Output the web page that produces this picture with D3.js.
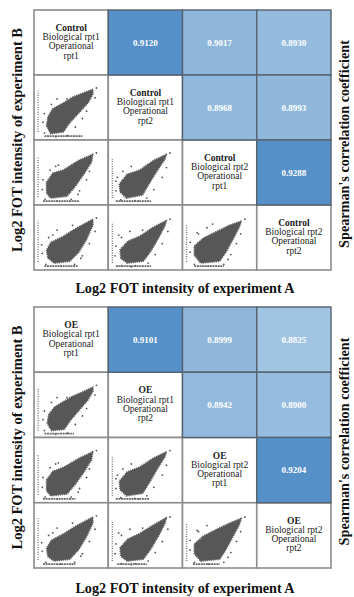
<!DOCTYPE html>
<html><head><meta charset="utf-8">
<script src="https://cdn.jsdelivr.net/npm/d3@7"></script>
<style>body{margin:0;background:#fff}svg{display:block;font-family:"Liberation Serif","Times New Roman",Times,serif}</style>
</head><body>
<svg id="c" width="354" height="597"></svg>
<script>
// ---------- data ----------
const panelNames = ["Control", "OE"];
const sampleIdx = [0, 1, 2, 3];
const bioLabels = ["Biological rpt1", "Biological rpt1", "Biological rpt2", "Biological rpt2"];
const opLabels = ["rpt1", "rpt2", "rpt1", "rpt2"];
// upper triangle pairs [row, col]
const pairs = [[0,1],[0,2],[0,3],[1,2],[1,3],[2,3]];
const controlCorr = [0.9120, 0.9017, 0.8930, 0.8968, 0.8993, 0.9288];
const oeCorr = [0.9101, 0.8999, 0.8825, 0.8942, 0.8900, 0.9204];
const colorStops = [0.880, 0.890, 0.905, 0.910];
const colorRange = ["#a6c6e4", "#96bcdf", "#8cb5da", "#5690c8"];
const xTitle = "Log2 FOT intensity of experiment A";
const yTitle = "Log2 FOT intensity of experiment B";
const rTitle = "Spearman's correlation coefficient";

// lower triangle pairs [row, col] for scatter cells
const scatterPairs = [[1,0],[2,0],[2,1],[3,0],[3,1],[3,2]];
// dense cloud outline (log2 intensity, scaled 0-100)
const controlHulls = [
  [[81,80],[70,75],[52,67],[37,56],[24,48],[17,35],[15,20],[21,7],[39,10],[48,25],[61,41],[75,59],[81,72]],
  [[81,80],[61,70],[39,54],[24,49],[15,34],[15,16],[21,8],[44,11],[55,26],[68,47],[79,67]],
  [[80,80],[62,70],[42,54],[24,47],[13,31],[14,18],[23,8],[46,13],[55,31],[69,57],[78,72]],
  [[81,80],[57,65],[39,52],[21,42],[15,29],[17,16],[26,8],[48,11],[61,26],[72,47],[81,70]],
  [[80,78],[60,66],[42,52],[25,44],[14,30],[15,16],[24,8],[47,11],[58,28],[70,52],[78,70]],
  [[81,77],[64,70],[46,60],[27,49],[14,36],[14,21],[23,8],[50,11],[59,26],[69,47],[78,67]]
];
const oeHulls = [
  [[81,79],[68,72],[52,64],[37,54],[26,46],[18,34],[16,20],[22,8],[40,10],[50,26],[62,42],[74,58],[81,72]],
  [[81,80],[62,70],[40,55],[24,48],[15,34],[15,16],[21,8],[44,11],[56,27],[69,48],[79,67]],
  [[80,80],[62,70],[42,55],[24,47],[13,32],[14,18],[23,8],[46,12],[56,30],[69,56],[78,72]],
  [[81,80],[58,66],[40,53],[22,42],[15,29],[17,15],[26,8],[48,11],[61,27],[72,48],[81,70]],
  [[80,79],[60,66],[42,53],[25,44],[14,30],[15,16],[24,8],[47,11],[58,28],[70,52],[78,70]],
  [[81,78],[64,70],[46,60],[27,49],[14,36],[14,20],[23,8],[50,11],[59,27],[69,48],[78,67]]
];
// sparse points outside the dense cloud
const controlOutliers = [
  [[30,64],[22,55],[12,40],[10,26],[12,8],[28,2],[45,4],[56,18],[66,32],[72,44],[86,82],[84,66],[44,64],[20,14]],
  [[32,62],[20,54],[10,38],[9,22],[13,6],[30,3],[50,6],[62,20],[72,38],[76,52],[86,82],[55,40],[28,60],[60,14]],
  [[30,60],[18,52],[8,36],[8,20],[15,5],[35,4],[52,8],[62,22],[74,42],[80,58],[85,82],[50,48],[10,42],[40,3]],
  [[30,62],[18,50],[8,38],[9,24],[14,6],[35,3],[55,6],[66,20],[76,40],[84,60],[86,82],[52,70],[24,54],[64,16]],
  [[28,60],[16,50],[8,36],[7,20],[16,4],[36,4],[54,8],[64,22],[74,40],[82,60],[85,80],[12,54],[46,62],[30,2]],
  [[32,66],[20,56],[8,42],[8,26],[14,6],[34,3],[56,6],[66,22],[74,40],[80,56],[86,80],[40,72],[18,58],[62,14]]
];
const oeOutliers = [
  [[30,62],[22,54],[12,40],[10,26],[12,8],[28,2],[45,4],[56,18],[66,32],[72,44],[86,82],[84,66],[44,62],[20,14]],
  [[32,62],[20,54],[10,38],[9,22],[13,6],[30,3],[50,6],[62,20],[72,38],[76,52],[86,82],[55,40],[28,60],[60,14]],
  [[30,60],[18,52],[8,36],[8,20],[15,5],[35,4],[52,8],[62,22],[74,42],[80,58],[85,82],[50,48],[10,42],[40,3]],
  [[30,62],[18,50],[8,38],[9,24],[14,6],[35,3],[55,6],[66,20],[76,40],[84,60],[86,82],[52,70],[24,54],[64,16]],
  [[28,60],[16,50],[8,36],[7,20],[16,4],[36,4],[54,8],[64,22],[74,40],[82,60],[85,80],[12,54],[46,62],[30,2]],
  [[32,66],[20,56],[8,42],[8,26],[14,6],[34,3],[56,6],[66,22],[74,40],[80,56],[86,80],[30,22],[18,58],[62,14]]
];
// points at the detection floor: [from, to] along left edge (y) and bottom edge (x)
const controlLeftStrip = [[10,78],[10,76],[8,72],[10,78],[8,74],[10,70]];
const controlBottomStrip = [[12,66],[10,62],[8,58],[12,60],[8,58],[14,56]];
const oeLeftStrip = [[8,78],[10,76],[8,72],[10,78],[8,74],[8,70]];
const oeBottomStrip = [[12,54],[10,56],[8,56],[10,56],[10,52],[12,50]];
const floorValue = 3;

// ---------- drawing ----------
const svg = d3.select("#c");
const serif = '"Liberation Serif", "Times New Roman", Times, serif';
const color = d3.scaleLinear().domain(colorStops).range(colorRange).clamp(true);
const x = d3.scaleBand().domain(sampleIdx).range([34, 331]);

const panels = [
  {name: panelNames[0], corr: controlCorr, hulls: controlHulls, outl: controlOutliers,
   left: controlLeftStrip, bottom: controlBottomStrip, y0: 10, y1: 270, titleY: 293},
  {name: panelNames[1], corr: oeCorr, hulls: oeHulls, outl: oeOutliers,
   left: oeLeftStrip, bottom: oeBottomStrip, y0: 307, y1: 568, titleY: 593}
];

panels.forEach(p => {
  const g = svg.append("g");
  const y = d3.scaleBand().domain(sampleIdx).range([p.y0, p.y1]);
  const bw = x.bandwidth(), bh = y.bandwidth();

  const whiteCells = [];
  sampleIdx.forEach(r => sampleIdx.forEach(c => { if (c <= r) whiteCells.push([r, c]); }));
  g.selectAll("rect.w").data(whiteCells).join("rect")
    .attr("x", d => x(d[1])).attr("y", d => y(d[0]))
    .attr("width", bw).attr("height", bh)
    .attr("fill", "#fff").attr("stroke", "#8c8c8c").attr("stroke-width", 1.6);

  scatterPairs.forEach((pr, i) => {
    const [r, c] = pr;
    const sx = d3.scaleLinear().domain([0, 100]).range([x(c) + 2, x(c) + bw - 2]);
    const sy = d3.scaleLinear().domain([0, 100]).range([y(r) + bh - 2, y(r) + 2]);
    const cg = g.append("g");
    cg.append("path")
      .attr("d", d3.line().x(d => sx(d[0])).y(d => sy(d[1])).curve(d3.curveLinearClosed)(p.hulls[i]))
      .attr("fill", "#575757").attr("stroke", "#5e5e5e").attr("stroke-width", 1.6)
      .attr("stroke-linejoin", "round").attr("stroke-dasharray", "1.2,0.9");
    cg.selectAll("circle").data(p.outl[i]).join("circle")
      .attr("cx", d => sx(d[0])).attr("cy", d => sy(d[1])).attr("r", 0.9).attr("fill", "#555");
    cg.append("line")
      .attr("x1", sx(floorValue)).attr("x2", sx(floorValue))
      .attr("y1", sy(p.left[i][0])).attr("y2", sy(p.left[i][1]))
      .attr("stroke", "#777").attr("stroke-width", 1.4).attr("stroke-dasharray", "1,1.4");
    cg.append("line")
      .attr("x1", sx(p.bottom[i][0])).attr("x2", sx(p.bottom[i][1]))
      .attr("y1", sy(floorValue)).attr("y2", sy(floorValue))
      .attr("stroke", "#6a6a6a").attr("stroke-width", 1.8).attr("stroke-dasharray", "2,0.6");
  });

  sampleIdx.forEach(k => {
    const cx = x(k) + bw / 2, cy = y(k) + bh / 2;
    const lines = [p.name, bioLabels[k], "Operational", opLabels[k]];
    const t = g.append("text").attr("text-anchor", "middle")
      .style("font-family", serif).attr("font-size", 9.5).attr("fill", "#222");
    lines.forEach((s, j) => {
      t.append("tspan").attr("x", cx).attr("y", cy - 11.5 + j * 9.2)
        .attr("font-weight", j === 0 ? "bold" : "normal").text(s);
    });
  });

  g.selectAll("rect.cor").data(pairs).join("rect")
    .attr("x", d => x(d[1])).attr("y", d => y(d[0]))
    .attr("width", bw).attr("height", bh)
    .attr("fill", (d, i) => color(p.corr[i]))
    .attr("stroke", "#56626e").attr("stroke-width", 1.4);
  g.selectAll("text.cor").data(pairs).join("text")
    .attr("x", d => x(d[1]) + bw / 2).attr("y", d => y(d[0]) + bh / 2 + 3)
    .attr("text-anchor", "middle").style("font-family", serif).attr("font-weight", "bold")
    .attr("font-size", 9).attr("fill", "#fff")
    .text((d, i) => d3.format(".4f")(p.corr[i]));

  g.append("text").attr("x", 185).attr("y", p.titleY).attr("text-anchor", "middle")
    .style("font-family", serif).attr("font-weight", "bold").attr("font-size", 14.2).attr("fill", "#111")
    .text(xTitle);
  const my = (p.y0 + p.y1) / 2;
  g.append("text").attr("transform", `translate(22,${my}) rotate(-90)`).attr("text-anchor", "middle")
    .style("font-family", serif).attr("font-weight", "bold").attr("font-size", 14.5).attr("fill", "#111")
    .text(yTitle);
  g.append("text").attr("transform", `translate(349,${my + 4}) rotate(-90)`).attr("text-anchor", "middle")
    .style("font-family", serif).attr("font-weight", "bold").attr("font-size", 14.2).attr("fill", "#111")
    .text(rTitle);
});
</script>
</body></html>
